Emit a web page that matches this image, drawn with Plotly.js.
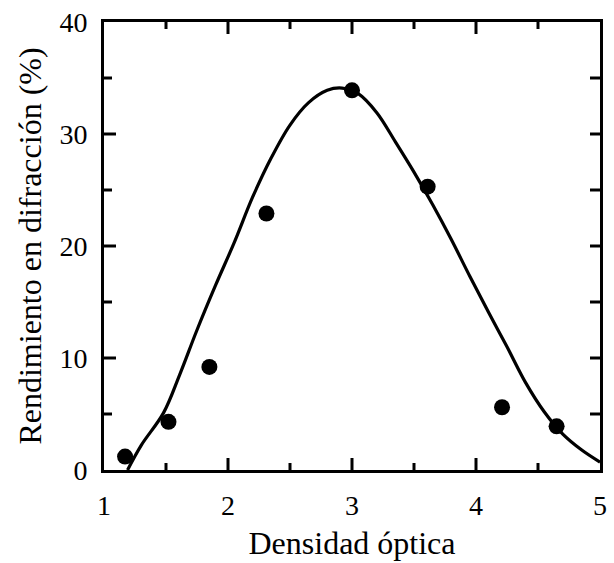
<!DOCTYPE html>
<html>
<head>
<meta charset="utf-8">
<script src="https://cdn.plot.ly/plotly-3.0.1.min.js"></script>
<style>html,body{margin:0;padding:0;background:#fff;}#chart{width:614px;height:563px;}</style>
</head>
<body>
<div id="chart"></div>
<script>
// Measured points
var pointsX = [1.17, 1.52, 1.85, 2.31, 3.0, 3.61, 4.21, 4.65];
var pointsY = [1.2, 4.3, 9.2, 22.9, 33.9, 25.3, 5.6, 3.9];

// Fitted curve
var curveX = [1.19, 1.3, 1.48, 1.61, 1.75, 1.9, 2.05, 2.2, 2.35, 2.5, 2.65, 2.8, 2.92, 3.05, 3.2, 3.35, 3.5, 3.65, 3.8, 3.95, 4.1, 4.25, 4.4, 4.55, 4.7, 4.85, 5.0];
var curveY = [0, 2.2, 5.1, 8.5, 12.5, 16.5, 20.3, 24.4, 27.9, 30.8, 32.8, 33.9, 34.1, 33.6, 31.9, 29.3, 26.6, 23.7, 20.6, 17.3, 14.1, 11.0, 7.8, 5.2, 3.2, 1.8, 0.7];

// Tick values
var xMajor = [2, 3, 4];
var xMinor = [1.5, 2.5, 3.5, 4.5];
var yMajor = [10, 20, 30];
var yMinor = [5, 15, 25, 35];

var font = "Liberation Serif";

var traces = [
  {x: curveX, y: curveY, mode: 'lines', type: 'scatter', line: {color: '#000', width: 3.2, shape: 'spline', smoothing: 1}, hoverinfo: 'skip'},
  {x: pointsX, y: pointsY, mode: 'markers', type: 'scatter', marker: {color: '#000', size: 16}}
];

// inward tick marks on all four sides, placed on the axes' data scale
var tickLine = {color: '#000', width: 3};
var shapes = [];
function xTick(v, len) {
  shapes.push({type: 'line', xref: 'x', yref: 'paper', x0: v, x1: v, ysizemode: 'pixel', yanchor: 0, y0: 0, y1: len, line: tickLine, layer: 'above'});
  shapes.push({type: 'line', xref: 'x', yref: 'paper', x0: v, x1: v, ysizemode: 'pixel', yanchor: 1, y0: -len, y1: 0, line: tickLine, layer: 'above'});
}
function yTick(v, lenL, lenR) {
  shapes.push({type: 'line', xref: 'x', yref: 'y', y0: v, y1: v, xsizemode: 'pixel', xanchor: 1, x0: 0, x1: lenL, line: tickLine, layer: 'above'});
  shapes.push({type: 'line', xref: 'x', yref: 'y', y0: v, y1: v, xsizemode: 'pixel', xanchor: 5, x0: -lenR, x1: 0, line: tickLine, layer: 'above'});
}
xMajor.forEach(function (v) { xTick(v, 12); });
xMinor.forEach(function (v) { xTick(v, 7); });
yMajor.forEach(function (v) { yTick(v, 12, 10); });
yMinor.forEach(function (v) { yTick(v, 8, 10); });

var layout = {
  width: 614, height: 563,
  margin: {l: 104, r: 14, t: 22, b: 93},
  paper_bgcolor: '#fff', plot_bgcolor: '#fff',
  showlegend: false,
  font: {family: font, color: '#000', size: 28},
  shapes: shapes,
  xaxis: {
    range: [1, 5], tickmode: 'linear', tick0: 1, dtick: 1,
    showgrid: false, zeroline: false, showline: true, linecolor: '#000', linewidth: 3,
    mirror: true, ticks: 'outside', ticklen: 8, tickcolor: 'rgba(0,0,0,0)',
    tickfont: {family: font, size: 28, color: '#000'},
    title: {text: 'Densidad óptica', font: {family: font, size: 32, color: '#000'}, standoff: 13}
  },
  yaxis: {
    range: [0, 40], tickmode: 'linear', tick0: 0, dtick: 10,
    showgrid: false, zeroline: false, showline: true, linecolor: '#000', linewidth: 3,
    mirror: true, ticks: 'outside', ticklen: 8, tickcolor: 'rgba(0,0,0,0)',
    tickfont: {family: font, size: 28, color: '#000'},
    title: {text: 'Rendimiento en difracción (%)', font: {family: font, size: 32, color: '#000'}, standoff: 9}
  }
};

Plotly.newPlot('chart', traces, layout, {displayModeBar: false, staticPlot: true});
</script>
</body>
</html>
